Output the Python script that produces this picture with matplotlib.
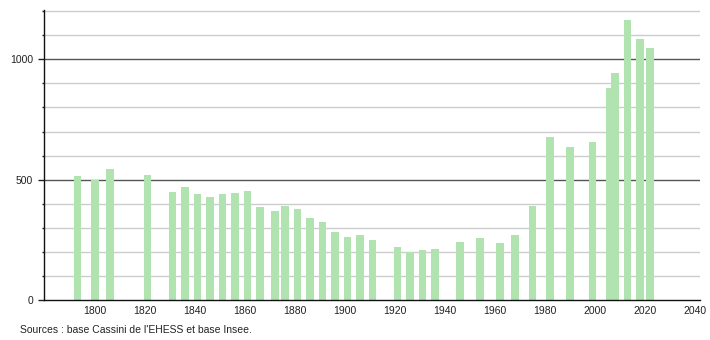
import matplotlib
matplotlib.use("Agg")
import matplotlib.pyplot as plt
from matplotlib.ticker import MultipleLocator

years = [1793, 1800, 1806, 1821, 1831, 1836, 1841, 1846, 1851, 1856, 1861,
         1866, 1872, 1876, 1881, 1886, 1891, 1896, 1901, 1906, 1911, 1921,
         1926, 1931, 1936, 1946, 1954, 1962, 1968, 1975, 1982, 1990, 1999,
         2006, 2008, 2013, 2018, 2022]
population = [514, 500, 546, 521, 447, 468, 442, 429, 442, 446, 453,
              386, 369, 392, 379, 342, 325, 283, 262, 271, 250, 219,
              199, 208, 212, 242, 258, 237, 269, 390, 676, 635, 657,
              882, 944, 1163, 1083, 1046]
x_ticks = [1800, 1820, 1840, 1860, 1880, 1900, 1920, 1940, 1960, 1980, 2000, 2020, 2040]
y_ticks = [0, 500, 1000]
source = "Sources : base Cassini de l'EHESS et base Insee."

plt.rcParams['font.family'] = ['Liberation Sans', 'DejaVu Sans']

fig = plt.figure(figsize=(7.1, 3.4), dpi=100)
ax = fig.add_axes([44/710, 40/340, 656/710, 290/340])

ax.set_xlim(1779.7, 2042)
ax.set_ylim(0, 1205)

for v in range(100, 1201, 100):
    if v % 500 == 0:
        ax.axhline(v, color='#555555', lw=1.0, zorder=1)
    else:
        ax.axhline(v, color='#cccccc', lw=1.0, zorder=1)

ax.bar(years, population, width=3.0, color='#b0e3b0', zorder=2, linewidth=0)

ax.set_xticks(x_ticks)
ax.set_xticklabels([str(t) for t in x_ticks])
ax.set_yticks(y_ticks)
ax.set_yticklabels([str(t) for t in y_ticks])
ax.yaxis.set_minor_locator(MultipleLocator(100))

ax.tick_params(axis='x', length=0, pad=4, labelsize=7.5, colors='#222222')
ax.tick_params(axis='y', which='major', length=4, width=1, pad=4, labelsize=7.5, colors='#222222')
ax.tick_params(axis='y', which='minor', length=1.5, width=1, color='#222222')
for lbl in ax.get_xticklabels() + ax.get_yticklabels():
    lbl.set_color('#222222')

for s in ['top', 'right']:
    ax.spines[s].set_visible(False)
for s in ['left', 'bottom']:
    ax.spines[s].set_color('#111111')
    ax.spines[s].set_linewidth(1.0)
    ax.spines[s].set_zorder(3)

fig.text(20/710, 10/340, source, fontsize=7.5, color='#222222', va='center', ha='left')

fig.savefig('out.png', dpi=100)
